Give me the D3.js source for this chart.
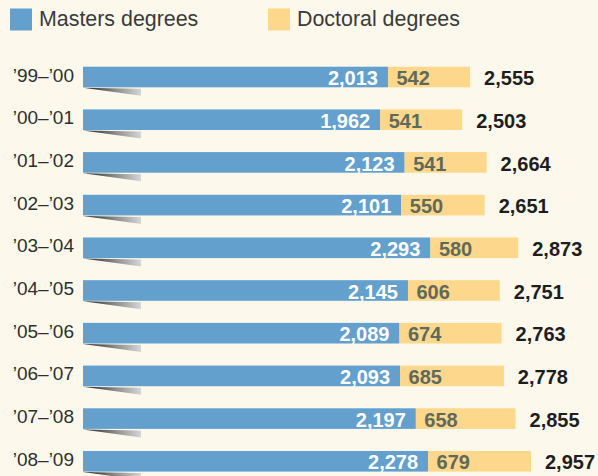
<!DOCTYPE html>
<html>
<head>
<meta charset="utf-8">
<script src="https://cdn.jsdelivr.net/npm/d3@7"></script>
<style>
  body { margin: 0; background: #fcf9ec; }
  svg { display: block; }
</style>
</head>
<body>
<svg id="chart" width="598" height="476"></svg>
<script>
var years = ["\u201999\u2013\u201900", "\u201900\u2013\u201901", "\u201901\u2013\u201902", "\u201902\u2013\u201903",
             "\u201903\u2013\u201904", "\u201904\u2013\u201905", "\u201905\u2013\u201906", "\u201906\u2013\u201907",
             "\u201907\u2013\u201908", "\u201908\u2013\u201909"];
var masters = [2013, 1962, 2123, 2101, 2293, 2145, 2089, 2093, 2197, 2278];
var doctoral = [542, 541, 541, 550, 580, 606, 674, 685, 658, 679];
var seriesNames = ["Masters degrees", "Doctoral degrees"];

var blue = "#63a0cd", yellow = "#fdd78b";
var fmt = d3.format(",");

var svg = d3.select("#chart");
svg.append("rect").attr("width", 598).attr("height", 476).attr("fill", "#fcf9ec");

// scales
var x = d3.scaleLinear().domain([0, 3000]).range([83, 83 + 3000 * 0.1515]);
var y = d3.scaleBand().domain(years).range([66.7, 471.6]).paddingInner(0.517).paddingOuter(0);

// gradient for shadow wedges
var grad = svg.append("defs").append("linearGradient").attr("id", "shade")
  .attr("x1", "0%").attr("x2", "100%").attr("y1", "0%").attr("y2", "0%");
grad.append("stop").attr("offset", "0%").attr("stop-color", "#1e1e1e");
grad.append("stop").attr("offset", "55%").attr("stop-color", "#8a8a8a");
grad.append("stop").attr("offset", "100%").attr("stop-color", "#d6d6d6");

// legend
var legend = svg.append("g");
var legX = [10, 268];
seriesNames.forEach(function(name, i) {
  legend.append("rect").attr("x", legX[i]).attr("y", 8.5).attr("width", 22).attr("height", 22)
    .attr("fill", i ? yellow : blue);
  legend.append("text").attr("x", legX[i] + 29).attr("y", 26)
    .attr("font-family", "Liberation Sans, Arial, sans-serif").attr("font-size", 21.4)
    .attr("fill", "#3a3a3a").text(name);
});

var rows = svg.selectAll("g.row").data(years).enter().append("g").attr("class", "row");

// shadow wedge
rows.append("path")
  .attr("d", function(d) {
    var b = y(d) + y.bandwidth();
    return "M" + x(0) + "," + (b + 0.5) + "L" + (x(0) + 58) + "," + (b + 1.5) +
           "L" + (x(0) + 58) + "," + (b + 8.5) + "Z";
  })
  .attr("fill", "url(#shade)");

// category labels
rows.append("text")
  .attr("x", 74).attr("y", function(d) { return y(d) + 14.8; })
  .attr("text-anchor", "end")
  .attr("font-family", "Liberation Sans, Arial, sans-serif").attr("font-size", 19)
  .attr("fill", "#2e2e2e")
  .text(function(d) { return d; });

// masters bars
rows.append("rect")
  .attr("x", x(0)).attr("y", function(d) { return y(d); })
  .attr("width", function(d, i) { return x(masters[i]) - x(0); })
  .attr("height", y.bandwidth())
  .attr("fill", blue);

// doctoral bars
rows.append("rect")
  .attr("x", function(d, i) { return x(masters[i]); })
  .attr("y", function(d) { return y(d); })
  .attr("width", function(d, i) { return x(masters[i] + doctoral[i]) - x(masters[i]); })
  .attr("height", y.bandwidth())
  .attr("fill", yellow);

var numFont = "Liberation Sans, Arial, sans-serif";

rows.append("text")
  .attr("x", function(d, i) { return x(masters[i]) - 10; })
  .attr("y", function(d) { return y(d) + 18.5; })
  .attr("text-anchor", "end")
  .attr("font-family", numFont).attr("font-weight", "bold").attr("font-size", 20)
  .attr("fill", "#ffffff")
  .text(function(d, i) { return fmt(masters[i]); });

rows.append("text")
  .attr("x", function(d, i) { return x(masters[i]) + 8.5; })
  .attr("y", function(d) { return y(d) + 18.5; })
  .attr("font-family", numFont).attr("font-weight", "bold").attr("font-size", 20)
  .attr("fill", "#5f6a5c")
  .text(function(d, i) { return fmt(doctoral[i]); });

rows.append("text")
  .attr("x", function(d, i) { return x(masters[i] + doctoral[i]) + 14; })
  .attr("y", function(d) { return y(d) + 18.5; })
  .attr("font-family", numFont).attr("font-weight", "bold").attr("font-size", 20)
  .attr("fill", "#1e1e1e")
  .text(function(d, i) { return fmt(masters[i] + doctoral[i]); });
</script>
</body>
</html>
